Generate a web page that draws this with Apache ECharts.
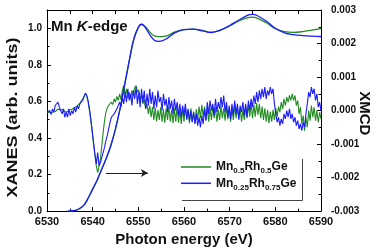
<!DOCTYPE html>
<html><head><meta charset="utf-8">
<script src="https://cdn.jsdelivr.net/npm/echarts@6/dist/echarts.min.js"></script>
<style>html,body{margin:0;padding:0;background:#fff}#c{width:374px;height:252px}</style>
</head><body><div id="c"></div>
<script>
// ---- data ----
const sampleNames = ['Mn0.5Rh0.5Ge', 'Mn0.25Rh0.75Ge'];
const xRange = [6530, 6590];
const xanesRange = [0, 1.1];
const xmcdRange = [-0.003, 0.003];

// XANES (left axis) [energy eV, normalized absorption]
const xanesGreen = [
  [6534.5,0],[6535.5,0.002],[6536.5,0.006],[6537.5,0.02],[6538.3,0.04],[6539,0.07],[6540,0.12],
  [6541,0.17],[6542,0.23],[6543,0.29],[6544,0.36],[6545,0.45],[6546,0.56],[6547,0.69],[6548,0.82],
  [6549,0.94],[6550,1.005],[6550.7,1.022],[6551.5,1.01],[6552.5,0.98],[6553.5,0.958],[6554.5,0.954],
  [6556,0.957],[6558,0.98],[6560,0.993],[6562,0.995],[6564,0.988],[6566,0.978],[6568,0.99],
  [6570,1.013],[6572,1.04],[6574,1.058],[6575,1.061],[6576,1.056],[6578,1.03],[6580,0.998],
  [6582,0.982],[6584,0.978],[6586,0.982],[6588,0.99],[6590,0.998]
];
const xanesBlue = [
  [6534.5,0],[6535.5,0.002],[6536.5,0.006],[6537.5,0.02],[6538.3,0.04],[6539,0.07],[6540,0.12],
  [6541,0.17],[6542,0.23],[6543,0.29],[6544,0.36],[6545,0.45],[6546,0.56],[6547,0.69],[6548,0.82],
  [6549,0.94],[6550,1.005],[6550.7,1.022],[6551.5,1.005],[6552.5,0.965],[6553.5,0.935],[6554.5,0.928],
  [6556,0.94],[6558,0.975],[6560,0.993],[6562,0.995],[6564,0.986],[6566,0.977],[6568,0.99],
  [6570,1.015],[6572,1.045],[6574,1.072],[6575,1.076],[6576,1.07],[6578,1.04],[6580,1.0],
  [6582,0.975],[6584,0.965],[6586,0.96],[6588,0.957],[6590,0.955]
];

// XMCD (right axis), sampled every 0.3 eV starting at 6530 eV
const xmcdStart = 6530;
const xmcdStep = 0.3;
const xmcdGreen = [
  -0.5e-4,-0.3e-4,-0.6e-4,-0.2e-4,-0.5e-4,0.0e-4,-0.3e-4,0.2e-4,0.4e-4,0.6e-4,
  0.2e-4,-0.2e-4,0.3e-4,-0.4e-4,0.1e-4,-0.3e-4,0.3e-4,0.0e-4,0.4e-4,0.5e-4,
  0.8e-4,1.0e-4,1.4e-4,1.8e-4,2.2e-4,2.8e-4,3.4e-4,4.2e-4,5.0e-4,4.4e-4,
  2.5e-4,0.0e-4,-3.0e-4,-6.5e-4,-10e-4,-13.5e-4,-16.5e-4,-18.5e-4,-18.0e-4,-14.5e-4,
  -10.5e-4,-6.5e-4,-3.0e-4,-0.5e-4,0.8e-4,1.5e-4,1.0e-4,2.5e-4,1.8e-4,3.5e-4,
  2.5e-4,4.2e-4,3.0e-4,5.0e-4,3.2e-4,6.0e-4,7.5e-4,4.5e-4,6.5e-4,3.8e-4,
  5.5e-4,3.5e-4,6.0e-4,4.5e-4,6.8e-4,7.5e-4,5.5e-4,6.2e-4,3.5e-4,4.5e-4,
  2.0e-4,3.5e-4,0.5e-4,2.0e-4,-1.0e-4,1.5e-4,-2.0e-4,1.0e-4,-2.8e-4,0.8e-4,
  -3.2e-4,0.2e-4,-2.8e-4,1.0e-4,-3.3e-4,0.4e-4,-3.6e-4,0.7e-4,-2.8e-4,1.2e-4,
  -3.3e-4,0.2e-4,-3.8e-4,0.7e-4,-3.3e-4,1.2e-4,-3.6e-4,0.0e-4,-4.0e-4,0.7e-4,
  -3.3e-4,1.2e-4,-2.8e-4,0.2e-4,-3.8e-4,0.7e-4,-3.3e-4,-0.3e-4,-3.8e-4,0.4e-4,
  -2.8e-4,1.2e-4,-2.3e-4,1.7e-4,-1.8e-4,1.2e-4,-2.8e-4,0.7e-4,-3.3e-4,0.7e-4,
  -2.8e-4,1.2e-4,-2.3e-4,1.0e-4,-3.3e-4,0.2e-4,-2.8e-4,1.4e-4,-2.3e-4,0.7e-4,
  -3.0e-4,1.2e-4,-2.6e-4,0.4e-4,-3.3e-4,0.7e-4,-2.8e-4,1.7e-4,-2.3e-4,1.0e-4,
  -2.8e-4,0.7e-4,-3.3e-4,0.2e-4,-2.8e-4,1.2e-4,-2.3e-4,1.7e-4,-1.8e-4,2.2e-4,
  -2.3e-4,1.7e-4,-1.8e-4,2.2e-4,-1.3e-4,2.0e-4,-2.3e-4,1.2e-4,-2.8e-4,0.7e-4,
  -3.3e-4,0.2e-4,-3.8e-4,-0.3e-4,-3.3e-4,0.2e-4,-2.8e-4,0.7e-4,-1.8e-4,1.2e-4,
  -0.5e-4,2.5e-4,0.5e-4,3.5e-4,1.5e-4,4.0e-4,2.5e-4,4.5e-4,3.0e-4,5.0e-4,
  3.0e-4,4.5e-4,1.5e-4,3.0e-4,-1.0e-4,1.0e-4,-4.0e-4,-1.5e-4,-6.0e-4,-2.0e-4,
  -5.0e-4,0.0e-4,-3.0e-4,1.5e-4,-2.0e-4,1.0e-4,-3.0e-4,0.0e-4,-3.5e-4,-0.5e-4,
  -2.5e-4
];
const xmcdBlue = [
  -0.5e-4,-1.0e-4,0.0e-4,-1.2e-4,0.5e-4,-0.5e-4,1.5e-4,1.0e-4,2.5e-4,1.0e-4,
  1.5e-4,-1.0e-4,0.5e-4,-2.0e-4,-0.5e-4,-2.0e-4,0.5e-4,-1.5e-4,0.0e-4,-1.0e-4,
  1.0e-4,-0.5e-4,1.5e-4,0.5e-4,2.0e-4,1.5e-4,3.0e-4,3.5e-4,5.2e-4,4.5e-4,
  3.0e-4,0.5e-4,-2.5e-4,-6.0e-4,-9.5e-4,-13.0e-4,-16.0e-4,-12.5e-4,-16.5e-4,-15.5e-4,
  -14.0e-4,-12.5e-4,-11.0e-4,-9.0e-4,-7.5e-4,-5.5e-4,-3.5e-4,-2.0e-4,-2.5e-4,-1.0e-4,
  -1.5e-4,0.5e-4,0.0e-4,2.5e-4,1.0e-4,4.0e-4,2.0e-4,5.5e-4,2.5e-4,6.5e-4,
  3.0e-4,5.0e-4,1.5e-4,6.0e-4,3.5e-4,7.0e-4,2.0e-4,5.5e-4,1.0e-4,6.5e-4,
  2.5e-4,6.0e-4,0.5e-4,5.0e-4,1.5e-4,6.5e-4,2.0e-4,5.5e-4,0.5e-4,4.5e-4,
  1.0e-4,6.0e-4,2.5e-4,4.0e-4,0.0e-4,5.0e-4,1.5e-4,3.5e-4,-0.5e-4,4.0e-4,
  0.5e-4,3.0e-4,-1.0e-4,3.5e-4,0.0e-4,2.5e-4,-1.5e-4,2.0e-4,-2.0e-4,1.5e-4,
  -1.5e-4,2.0e-4,-2.5e-4,0.5e-4,-3.0e-4,0.0e-4,-3.5e-4,-0.5e-4,-4.0e-4,-1.0e-4,
  -4.5e-4,-2.0e-4,-5.0e-4,-1.5e-4,-4.0e-4,0.5e-4,-3.0e-4,2.5e-4,-1.0e-4,3.0e-4,
  0.0e-4,2.0e-4,-1.5e-4,3.5e-4,-0.5e-4,2.5e-4,0.5e-4,4.0e-4,1.0e-4,4.5e-4,
  -0.5e-4,2.5e-4,-2.0e-4,1.5e-4,-2.5e-4,2.0e-4,-1.5e-4,3.0e-4,-1.0e-4,2.0e-4,
  -2.5e-4,1.5e-4,-0.5e-4,2.5e-4,-1.5e-4,2.0e-4,-2.0e-4,3.0e-4,0.0e-4,3.5e-4,
  1.0e-4,4.5e-4,2.0e-4,5.5e-4,2.5e-4,6.0e-4,3.5e-4,6.5e-4,4.0e-4,7.0e-4,
  3.5e-4,6.0e-4,4.5e-4,7.0e-4,5.0e-4,6.5e-4,2.0e-4,-1.0e-4,-3.5e-4,-2.0e-4,
  -4.5e-4,-2.5e-4,-4.0e-4,-1.0e-4,-2.5e-4,0.0e-4,-2.0e-4,0.5e-4,-2.5e-4,-1.0e-4,
  -3.5e-4,-2.0e-4,-4.5e-4,-3.0e-4,-5.5e-4,-4.0e-4,-6.0e-4,-3.5e-4,-5.0e-4,-1.0e-4,
  2.0e-4,5.5e-4,4.0e-4,7.0e-4,5.0e-4,6.5e-4,3.0e-4,5.0e-4,1.0e-4,2.5e-4,
  0.0e-4
];

// annotation arrow (data coordinates on XANES axis)
const arrowFrom = [6542.9, 0.208];
const arrowTo = [6552.1, 0.208];

// ---- chart ----
const GREEN = '#228b22';
const BLUE = '#1c1cff';
const FONT = "'Liberation Sans', Arial, Helvetica, sans-serif";

function withEnergies(vals) {
  return vals.map((v, i) => [+(xmcdStart + xmcdStep * i).toFixed(2), v]);
}
function richName(name) {
  return name.replace(/([A-Za-z]+)/g, '{m|$1}').replace(/([0-9.]+)/g, '{s|$1}');
}

const chart = echarts.init(document.getElementById('c'), null, {renderer: 'canvas'});
const axisLineStyle = {color: '#000', width: 1};
chart.setOption({
  animation: false,
  backgroundColor: '#fff',
  grid: {left: 47, right: 53, top: 10, bottom: 39, containLabel: false},
  xAxis: [{
    type: 'value', position: 'bottom', min: xRange[0], max: xRange[1], interval: 10,
    axisLine: {show: true, onZero: false, lineStyle: axisLineStyle},
    axisTick: {show: true, inside: true, length: 4, lineStyle: axisLineStyle},
    minorTick: {show: true, splitNumber: 2, length: 2.5, lineStyle: axisLineStyle},
    axisLabel: {color: '#111', fontSize: 11, fontWeight: 'bold', fontFamily: FONT, margin: 5,
      formatter: v => String(Math.round(v))},
    splitLine: {show: false},
    name: 'Photon energy (eV)', nameLocation: 'middle', nameGap: 19,
    nameTextStyle: {color: '#111', fontSize: 15, fontWeight: 'bold', fontFamily: FONT}
  }, {
    type: 'value', position: 'top', min: xRange[0], max: xRange[1], interval: 5,
    axisLine: {show: true, onZero: false, lineStyle: axisLineStyle},
    axisTick: {show: true, inside: true, length: 4, lineStyle: axisLineStyle},
    axisLabel: {show: false}, splitLine: {show: false}
  }],
  yAxis: [{
    type: 'value', position: 'left', min: xanesRange[0], max: xanesRange[1], interval: 0.2,
    axisLine: {show: true, onZero: false, lineStyle: axisLineStyle},
    axisTick: {show: true, inside: true, length: 4, lineStyle: axisLineStyle},
    minorTick: {show: true, splitNumber: 2, length: 2.5, lineStyle: axisLineStyle},
    axisLabel: {color: '#111', fontSize: 10, fontWeight: 'bold', fontFamily: FONT, margin: 5,
      showMaxLabel: false, formatter: v => v.toFixed(1)},
    splitLine: {show: false}
  }, {
    type: 'value', position: 'right', min: xmcdRange[0], max: xmcdRange[1], interval: 0.001,
    axisLine: {show: true, onZero: false, lineStyle: axisLineStyle},
    axisTick: {show: true, inside: true, length: 4, lineStyle: axisLineStyle},
    minorTick: {show: true, splitNumber: 2, length: 2.5, lineStyle: axisLineStyle},
    axisLabel: {color: '#111', fontSize: 10, fontWeight: 'bold', fontFamily: FONT, margin: 10,
      formatter: v => (Math.abs(v) < 1e-9 ? 0 : v).toFixed(3)},
    splitLine: {show: false}
  }],
  legend: {
    show: true, orient: 'vertical', left: 181, top: 161, padding: 0, itemGap: 2.3,
    itemWidth: 30, itemHeight: 1.5, icon: 'rect', selectedMode: false,
    data: sampleNames,
    formatter: richName,
    textStyle: {
      color: '#111', fontFamily: FONT,
      rich: {
        m: {fontSize: 12, fontWeight: 'bold', fontFamily: FONT, color: '#111', lineHeight: 16},
        s: {fontSize: 8, fontWeight: 'bold', fontFamily: FONT, color: '#111', lineHeight: 6, verticalAlign: 'bottom'}
      }
    }
  },
  series: [{
    type: 'line', name: sampleNames[0], xAxisIndex: 0, yAxisIndex: 0, data: xanesGreen,
    smooth: 0.4, symbol: 'none', lineStyle: {color: GREEN, width: 1.3}, itemStyle: {color: GREEN}, z: 2,
    markLine: {
      silent: true, symbol: ['none', 'arrow'], symbolSize: [6, 7], animation: false,
      label: {show: false}, emphasis: {disabled: true},
      lineStyle: {color: '#222', width: 1, type: 'solid'},
      data: [[{coord: arrowFrom}, {coord: arrowTo}]]
    }
  }, {
    type: 'line', name: sampleNames[1], xAxisIndex: 0, yAxisIndex: 0, data: xanesBlue,
    smooth: 0.4, symbol: 'none', lineStyle: {color: BLUE, width: 1.3}, itemStyle: {color: BLUE}, z: 3
  }, {
    type: 'line', name: sampleNames[0], xAxisIndex: 0, yAxisIndex: 1, data: withEnergies(xmcdGreen),
    symbol: 'none', lineStyle: {color: GREEN, width: 1.1}, itemStyle: {color: GREEN}, z: 2
  }, {
    type: 'line', name: sampleNames[1], xAxisIndex: 0, yAxisIndex: 1, data: withEnergies(xmcdBlue),
    symbol: 'none', lineStyle: {color: BLUE, width: 1.1}, itemStyle: {color: BLUE}, z: 3
  }],
  graphic: [{
    type: 'text', x: 12.5, y: 117.5, rotation: Math.PI / 2, scaleX: 1.2,
    style: {text: 'XANES (arb. units)', fill: '#111', font: "bold 15px " + FONT,
      align: 'center', verticalAlign: 'middle'}
  }, {
    type: 'text', x: 364.5, y: 113.3, rotation: -Math.PI / 2,
    style: {text: 'XMCD', fill: '#111', font: "bold 15px " + FONT,
      align: 'center', verticalAlign: 'middle'}
  }, {
    type: 'text', x: 51, y: 26.5,
    style: {text: '{b|Mn }{i|K}{b|-edge}', fill: '#111', align: 'left', verticalAlign: 'middle',
      rich: {
        b: {fontSize: 15, fontWeight: 'bold', fontFamily: FONT, fill: '#111'},
        i: {fontSize: 15, fontWeight: 'bold', fontStyle: 'italic', fontFamily: FONT, fill: '#111'}
      }}
  }, {
    type: 'polyline', silent: true,
    shape: {points: [[182, 200.5], [302.5, 200.5], [302.5, 159]]},
    style: {stroke: '#444', lineWidth: 1, fill: null}
  }]
});
</script>
</body></html>
